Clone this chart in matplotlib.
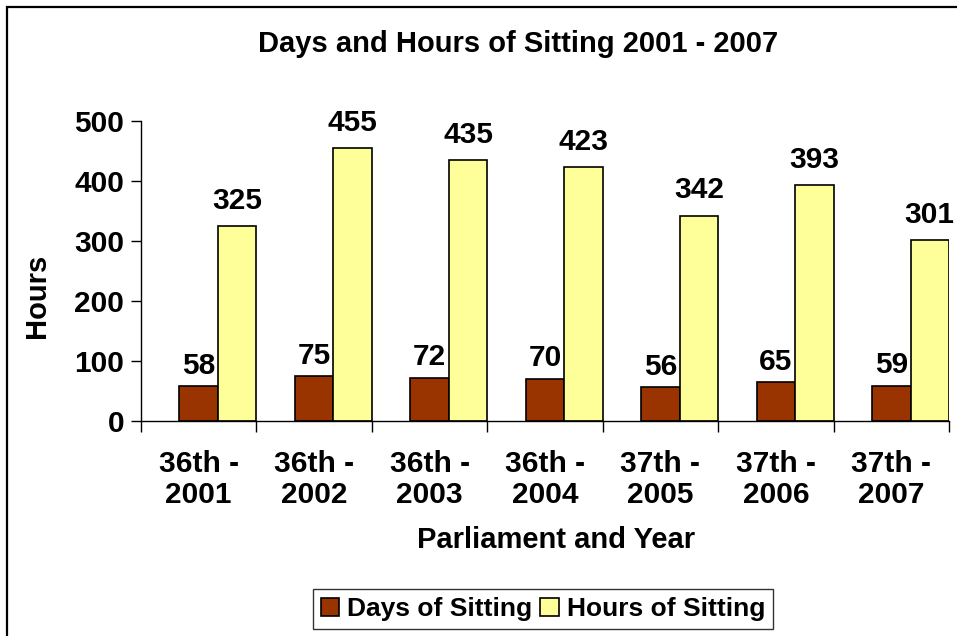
import matplotlib.pyplot as plt
import matplotlib.patches as mpatches
import numpy as np

# data
categories = ['36th -\n2001', '36th -\n2002', '36th -\n2003', '36th -\n2004',
              '37th -\n2005', '37th -\n2006', '37th -\n2007']
days = [58, 75, 72, 70, 56, 65, 59]
hours = [325, 455, 435, 423, 342, 393, 301]

plt.rcParams['font.family'] = 'Liberation Sans'
plt.rcParams['font.weight'] = 'bold'

fig = plt.figure(figsize=(9.57, 6.36), dpi=100)
ax = fig.add_axes([141 / 957, 215 / 636, 808 / 957, 300 / 636])

x = np.arange(len(categories))
w = 1 / 3
ax.bar(x, days, width=w, color='#993300', edgecolor='black', linewidth=1.2,
       label='Days of Sitting')
ax.bar(x + w, hours, width=w, color='#FFFF99', edgecolor='black', linewidth=1.2,
       label='Hours of Sitting')

for i in range(len(x)):
    ax.annotate(str(days[i]), (x[i], days[i]), xytext=(0, 9), textcoords='offset points',
                ha='center', va='baseline', fontsize=21.5, fontweight='bold')
    ax.annotate(str(hours[i]), (x[i] + w, hours[i]), xytext=(0, 12.5),
                textcoords='offset points', ha='center', va='baseline',
                fontsize=21.5, fontweight='bold')

ax.set_xlim(-0.5, 6.5)
ax.set_ylim(0, 500)
ax.set_yticks([0, 100, 200, 300, 400, 500])
ax.set_xticks(np.arange(-0.5, 7, 1))
ax.set_xticklabels([])
ax.set_xticks(x, minor=True)
ax.set_xticklabels(categories, minor=True, fontsize=21.5, fontweight='bold',
                   linespacing=1.15)
ax.tick_params(axis='x', which='major', direction='out', length=8, width=1)
ax.tick_params(axis='x', which='minor', length=0, pad=21)
ax.tick_params(axis='y', direction='out', length=7, width=1, pad=5, labelsize=21.5)
for lab in ax.get_yticklabels():
    lab.set_fontweight('bold')

ax.spines['top'].set_visible(False)
ax.spines['right'].set_visible(False)
ax.spines['left'].set_linewidth(1)
ax.spines['bottom'].set_linewidth(1)

fig.text(518 / 957, 1 - 44 / 636, 'Days and Hours of Sitting 2001 - 2007',
         ha='center', va='center', fontsize=21, fontweight='bold')
fig.text(556 / 957, 1 - 540 / 636, 'Parliament and Year', ha='center', va='center',
         fontsize=21, fontweight='bold')
fig.text(37 / 957, 1 - 296 / 636, 'Hours', ha='center', va='center', rotation=90,
         fontsize=21, fontweight='bold')

leg = fig.legend(loc='center', bbox_to_anchor=(543 / 957, 1 - 609 / 636), ncol=2,
                 frameon=True, fancybox=False, edgecolor='black',
                 handlelength=0.7, handleheight=0.7, handletextpad=0.3,
                 columnspacing=0.3, borderpad=0.3, prop={'weight': 'bold', 'size': 19})
leg.get_frame().set_linewidth(1)

border = mpatches.Rectangle((7 / 957, -0.1), 1.2, 0.1 + 1 - 7 / 636,
                            transform=fig.transFigure, fill=False,
                            edgecolor='black', linewidth=1.6)
fig.patches.append(border)

fig.savefig('out.png', dpi=100)
